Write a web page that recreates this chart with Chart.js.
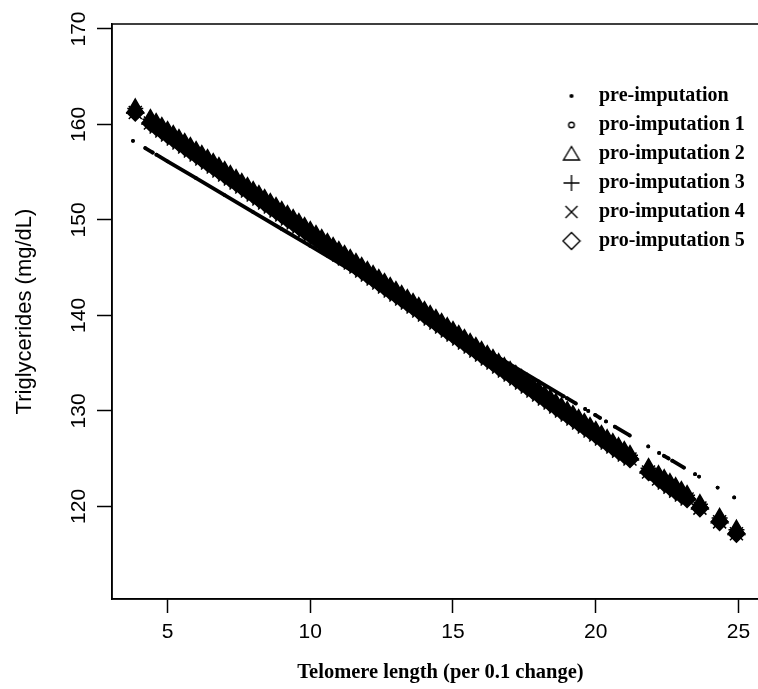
<!DOCTYPE html>
<html>
<head>
<meta charset="utf-8">
<script src="https://cdn.jsdelivr.net/npm/chart.js@4.4.1/dist/chart.umd.min.js"></script>
<style>
	html, body { margin: 0; padding: 0; background: #fff; overflow: hidden; }
</style>
</head>
<body>
<canvas id="telomere" width="780" height="689"></canvas>
<script>
// Values (x: telomere length, y: triglycerides).
// A null in the pre-imputation arrays marks a gap between dashes / dots.
const pre_length = [ 3.79, null, 4.22, 4.48, null, 4.61, 5, 6, 7, 8, 9, 10, 11, 12, 13, 14, 15, 16, 17, 18, 18.88, null,
	18.99, 19.30, null, 19.63, null, 19.74, null, 19.98, 20.15, null, 20.36, null, 20.67, 21.19, null, 21.84, null,
	22.22, null, 22.39, 22.55, null, 22.68, 23.09, null, 23.48, null, 23.62, null, 24.27, null, 24.85 ];
const pre_trig = [ 158.29, null, 157.53, 157.06, null, 156.83, 156.14, 154.37, 152.60, 150.82, 149.05, 147.28, 145.50, 143.73, 141.95, 140.18, 138.41, 136.63, 134.86, 133.09, 131.53, null,
	131.33, 130.78, null, 130.20, null, 130.00, null, 129.58, 129.27, null, 128.90, null, 128.35, 127.43, null, 126.28, null,
	125.60, null, 125.30, 125.02, null, 124.79, 124.06, null, 123.37, null, 123.12, null, 121.97, null, 120.94 ];

// Telomere lengths shared by the five imputations.
const pro_length = [ 3.87, 4.4, 4.6, 4.8, 5.0, 5.2, 5.4, 5.6, 5.8, 6.0, 6.2, 6.4, 6.6, 6.8, 7.0, 7.2, 7.4, 7.6, 7.8,
	8.0, 8.2, 8.4, 8.6, 8.8, 9.0, 9.2, 9.4, 9.6, 9.8, 10.0, 10.2, 10.4, 10.6, 10.8, 11.0, 11.2, 11.4, 11.6, 11.8,
	12.0, 12.2, 12.4, 12.6, 12.8, 13.0, 13.2, 13.4, 13.6, 13.8, 14.0, 14.2, 14.4, 14.6, 14.8, 15.0, 15.2, 15.4, 15.6, 15.8,
	16.0, 16.2, 16.4, 16.6, 16.8, 17.0, 17.2, 17.4, 17.6, 17.8, 18.0, 18.2, 18.4, 18.6, 18.8, 19.0, 19.2, 19.4, 19.6, 19.8,
	20.0, 20.2, 20.4, 20.6, 20.8, 21.0, 21.2, 21.85, 22.2, 22.4, 22.6, 22.8, 23.0, 23.2, 23.65, 24.34, 24.93 ];

// Imputation 1 (middle of the band).
const pro_trig_mid = [ 161.46, 160.35, 159.93, 159.51, 159.10, 158.68, 158.26, 157.84, 157.42, 157.00, 156.58, 156.16, 155.74, 155.32, 154.91, 154.49, 154.07, 153.65, 153.23,
	152.81, 152.39, 151.97, 151.55, 151.13, 150.72, 150.30, 149.88, 149.46, 149.04, 148.62, 148.20, 147.78, 147.36, 146.94, 146.53, 146.11, 145.69, 145.27, 144.85,
	144.43, 144.01, 143.59, 143.17, 142.75, 142.34, 141.92, 141.50, 141.08, 140.66, 140.24, 139.82, 139.40, 138.98, 138.56, 138.15, 137.73, 137.31, 136.89, 136.47,
	136.05, 135.63, 135.21, 134.79, 134.37, 133.96, 133.54, 133.12, 132.70, 132.28, 131.86, 131.44, 131.02, 130.60, 130.18, 129.77, 129.35, 128.93, 128.51, 128.09,
	127.67, 127.25, 126.83, 126.41, 125.99, 125.58, 125.16, 123.80, 123.06, 122.64, 122.22, 121.80, 121.39, 120.97, 120.02, 118.58, 117.34 ];

// Imputations 2 and 3 (upper edge of the band).
const pro_trig_high = [ 161.66, 160.55, 160.13, 159.71, 159.30, 158.88, 158.46, 158.04, 157.62, 157.20, 156.78, 156.36, 155.94, 155.52, 155.11, 154.69, 154.27, 153.85, 153.43,
	153.01, 152.59, 152.17, 151.75, 151.33, 150.92, 150.50, 150.08, 149.66, 149.24, 148.82, 148.40, 147.98, 147.56, 147.14, 146.73, 146.31, 145.89, 145.47, 145.05,
	144.63, 144.21, 143.79, 143.37, 142.95, 142.54, 142.12, 141.70, 141.28, 140.86, 140.44, 140.02, 139.60, 139.18, 138.76, 138.35, 137.93, 137.51, 137.09, 136.67,
	136.25, 135.83, 135.41, 134.99, 134.57, 134.16, 133.74, 133.32, 132.90, 132.48, 132.06, 131.64, 131.22, 130.80, 130.38, 129.97, 129.55, 129.13, 128.71, 128.29,
	127.87, 127.45, 127.03, 126.61, 126.19, 125.78, 125.36, 124.00, 123.26, 122.84, 122.42, 122.00, 121.59, 121.17, 120.22, 118.78, 117.54 ];

// Imputations 4 and 5 (lower edge of the band).
const pro_trig_low = [ 161.26, 160.15, 159.73, 159.31, 158.90, 158.48, 158.06, 157.64, 157.22, 156.80, 156.38, 155.96, 155.54, 155.12, 154.71, 154.29, 153.87, 153.45, 153.03,
	152.61, 152.19, 151.77, 151.35, 150.93, 150.52, 150.10, 149.68, 149.26, 148.84, 148.42, 148.00, 147.58, 147.16, 146.74, 146.33, 145.91, 145.49, 145.07, 144.65,
	144.23, 143.81, 143.39, 142.97, 142.55, 142.14, 141.72, 141.30, 140.88, 140.46, 140.04, 139.62, 139.20, 138.78, 138.36, 137.95, 137.53, 137.11, 136.69, 136.27,
	135.85, 135.43, 135.01, 134.59, 134.17, 133.76, 133.34, 132.92, 132.50, 132.08, 131.66, 131.24, 130.82, 130.40, 129.98, 129.57, 129.15, 128.73, 128.31, 127.89,
	127.47, 127.05, 126.63, 126.21, 125.79, 125.38, 124.96, 123.60, 122.86, 122.44, 122.02, 121.60, 121.19, 120.77, 119.82, 118.38, 117.14 ];

const series_names = [ "pre-imputation", "pro-imputation 1", "pro-imputation 2", "pro-imputation 3", "pro-imputation 4", "pro-imputation 5" ];
const x_ticks = [ 5, 10, 15, 20, 25 ];
const y_ticks = [ 120, 130, 140, 150, 160, 170 ];

const serif = "'Liberation Serif', 'Times New Roman', serif";
const sans = "'Liberation Sans', Arial, sans-serif";

const to_points = ( xs, ys ) => xs.map( ( x, i ) => ( { x: x, y: ys[ i ] } ) );

//
// Open symbols for the legend (R style), drawn on small canvases.
//
function make_icon( size, draw )
{
	const icon = document.createElement( "canvas" );
	icon.width = size;
	icon.height = size;
	const ctx = icon.getContext( "2d" );
	ctx.strokeStyle = "#000";
	ctx.fillStyle = "#000";
	ctx.lineWidth = 1.4;
	ctx.beginPath();
	draw( ctx, size / 2 );
	return icon;
}

const legend_icons = [
	make_icon( 6, ( ctx, c ) => { ctx.arc( c, c, 2.1, 0, 2 * Math.PI ); ctx.fill(); } ),
	make_icon( 10, ( ctx, c ) => { ctx.arc( c, c, 2.8, 0, 2 * Math.PI ); ctx.stroke(); } ),
	make_icon( 20, ( ctx, c ) => { ctx.moveTo( c, c - 7.5 ); ctx.lineTo( c + 8, c + 6 ); ctx.lineTo( c - 8, c + 6 ); ctx.closePath(); ctx.stroke(); } ),
	make_icon( 20, ( ctx, c ) => { ctx.moveTo( c - 8, c ); ctx.lineTo( c + 8, c ); ctx.moveTo( c, c - 8 ); ctx.lineTo( c, c + 8 ); ctx.stroke(); } ),
	make_icon( 16, ( ctx, c ) => { ctx.moveTo( c - 6, c - 6 ); ctx.lineTo( c + 6, c + 6 ); ctx.moveTo( c + 6, c - 6 ); ctx.lineTo( c - 6, c + 6 ); ctx.stroke(); } ),
	make_icon( 20, ( ctx, c ) => { ctx.moveTo( c, c - 8.5 ); ctx.lineTo( c + 8.5, c ); ctx.lineTo( c, c + 8.5 ); ctx.lineTo( c - 8.5, c ); ctx.closePath(); ctx.stroke(); } )
];

// Moves the legend into the upper right corner of the plot.
const legend_placer = {
	id: "legend_placer",
	afterLayout( chart )
	{
		const legend = chart.legend;
		legend.left = 545;
		legend.top = 77;
		legend.right = chart.width;
		legend.bottom = chart.height;
	}
};

// Full box around the plot area.
const plot_box = {
	id: "plot_box",
	afterDraw( chart )
	{
		const { ctx, chartArea: area } = chart;
		ctx.save();
		ctx.strokeStyle = "#000";
		ctx.lineWidth = 1.5;
		ctx.strokeRect( area.left, area.top, area.right - area.left, area.bottom - area.top );
		ctx.restore();
	}
};

const pro_style = ( label, values, style, radius ) => ( {
	label: label,
	data: to_points( pro_length, values ),
	pointStyle: style,
	pointRadius: radius,
	pointBorderWidth: 1.5,
	pointBorderColor: "#000",
	pointBackgroundColor: "#000",
	borderColor: "#000",
	backgroundColor: "#000"
} );

new Chart( document.getElementById( "telomere" ),
	{
		type: "scatter",
		data: {
			datasets: [
				{
					label: series_names[ 0 ],
					data: to_points( pre_length, pre_trig ),
					showLine: true,
					spanGaps: false,
					borderColor: "#000",
					borderWidth: 3.8,
					borderCapStyle: "round",
					backgroundColor: "#000",
					pointStyle: "circle",
					pointRadius: 1.9,
					pointBorderWidth: 0,
					pointBackgroundColor: "#000"
				},
				pro_style( series_names[ 1 ], pro_trig_mid, "circle", 3 ),
				pro_style( series_names[ 2 ], pro_trig_high, "triangle", 9.5 ),
				pro_style( series_names[ 3 ], pro_trig_high, "cross", 8 ),
				pro_style( series_names[ 4 ], pro_trig_low, "crossRot", 9.2 ),
				pro_style( series_names[ 5 ], pro_trig_low, "rectRot", 8.5 )
			]
		},
		options: {
			responsive: false,
			devicePixelRatio: 1,
			animation: false,
			layout: {
				padding: { left: 0, top: 24, right: 2, bottom: 0 }
			},
			plugins: {
				tooltip: { enabled: false },
				legend: {
					position: "chartArea",
					align: "start",
					labels: {
						usePointStyle: true,
						pointStyleWidth: 35,
						padding: 9,
						color: "#000",
						font: { family: serif, size: 20, weight: "bold" },
						generateLabels: chart => Chart.defaults.plugins.legend.labels.generateLabels( chart )
							.map( ( item, i ) => Object.assign( item, { pointStyle: legend_icons[ i ] } ) )
					}
				}
			},
			scales: {
				x: {
					type: "linear",
					position: "bottom",
					min: 3.055,
					max: 26.07,
					afterBuildTicks: scale => { scale.ticks = x_ticks.map( value => ( { value } ) ); },
					afterFit: scale => { scale.height = 90; },
					border: { display: true, color: "#000", width: 1.5 },
					grid: { drawOnChartArea: false, drawTicks: true, tickLength: 14, tickColor: "#000", tickWidth: 1.5 },
					ticks: {
						color: "#000",
						padding: 7,
						maxRotation: 0,
						font: { family: sans, size: 21 }
					},
					title: {
						display: true,
						text: "Telomere length (per 0.1 change)",
						color: "#000",
						font: { family: serif, size: 20.5, weight: "bold" },
						padding: { top: 0, bottom: 4 }
					}
				},
				y: {
					type: "linear",
					position: "left",
					min: 110.3,
					max: 170.52,
					afterBuildTicks: scale => { scale.ticks = y_ticks.map( value => ( { value } ) ); },
					afterFit: scale => { scale.width = 112; },
					border: { display: true, color: "#000", width: 1.5 },
					grid: { drawOnChartArea: false, drawTicks: true, tickLength: 15, tickColor: "#000", tickWidth: 1.5 },
					ticks: {
						color: "#000",
						padding: 0,
						minRotation: 90,
						maxRotation: 90,
						crossAlign: "center",
						font: { family: sans, size: 21 }
					},
					title: {
						display: true,
						text: "Triglycerides (mg/dL)",
						color: "#000",
						font: { family: sans, size: 22 },
						padding: { top: 12, bottom: 0 }
					}
				}
			}
		},
		plugins: [ legend_placer, plot_box ]
	} );
</script>
</body>
</html>
